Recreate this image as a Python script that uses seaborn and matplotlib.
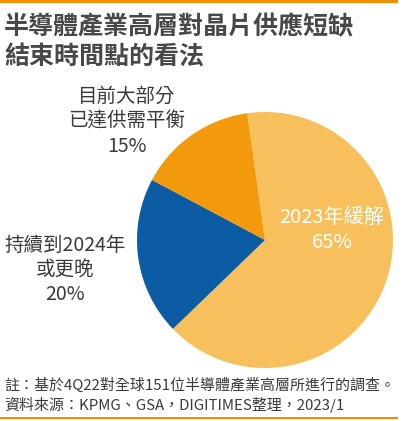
import matplotlib
matplotlib.use("Agg")
import matplotlib.pyplot as plt
from matplotlib.patches import Rectangle
import seaborn as sns

# 資料
categories = ["2023年緩解", "持續到2024年\n或更晚", "目前大部分\n已達供需平衡"]
shares = [65, 20, 15]
colors = ["#F8C05C", "#0B5CA2", "#F39A0C"]

title = "半導體產業高層對晶片供應短缺\n結束時間點的看法"
note = "註：基於4Q22對全球151位半導體產業高層所進行的調查。\n資料來源：KPMG、GSA，DIGITIMES整理，2023/1"

sns.set_theme(style="white")
plt.rcParams["font.family"] = ["Noto Sans CJK TC", "DejaVu Sans"]

W, H = 404, 421
fig = plt.figure(figsize=(W / 100, H / 100), dpi=100)

# pie centre (265, 240) px, radius 128 px
cx, cy, r = 265, 240, 128
ax = fig.add_axes([(cx - r) / W, (H - cy - r) / H, 2 * r / W, 2 * r / H])
ax.pie(shares, colors=colors, startangle=98, counterclock=False,
       radius=1, wedgeprops=dict(linewidth=0))
ax.set_xlim(-1, 1)
ax.set_ylim(-1, 1)
ax.set_aspect("equal")
ax.axis("off")

dark = "#3a3a3a"
# labels
fig.text(332 / W, 1 - 230 / H, f"{categories[0]}\n{shares[0]}%", color="white",
         fontsize=14.5, ha="center", va="center", linespacing=1.25, fontweight="light")
fig.text(65 / W, 1 - 270 / H, f"{categories[1]}\n{shares[1]}%", color=dark,
         fontsize=14, ha="center", va="center", linespacing=1.25, fontweight="light")
fig.text(127 / W, 1 - 121 / H, f"{categories[2]}\n{shares[2]}%", color=dark,
         fontsize=14, ha="center", va="center", linespacing=1.25, fontweight="light")

# title and note
fig.text(4 / W, 1 - 42 / H, title, color="#484848", fontsize=18, fontweight="bold",
         ha="left", va="center", linespacing=1.35)
fig.text(4 / W, 1 - 395 / H, note, color=dark, fontsize=10.8,
         ha="left", va="center", linespacing=1.3, fontweight="light")

# orange rules
fig.add_artist(Rectangle((0, 1 - 3 / H), 398 / W, 3 / H, transform=fig.transFigure,
                         color="#F28C00", lw=0))
fig.add_artist(Rectangle((0, 2 / H), 398 / W, 2 / H, transform=fig.transFigure,
                         color="#F28C00", lw=0))

fig.savefig("out.png", dpi=100)
